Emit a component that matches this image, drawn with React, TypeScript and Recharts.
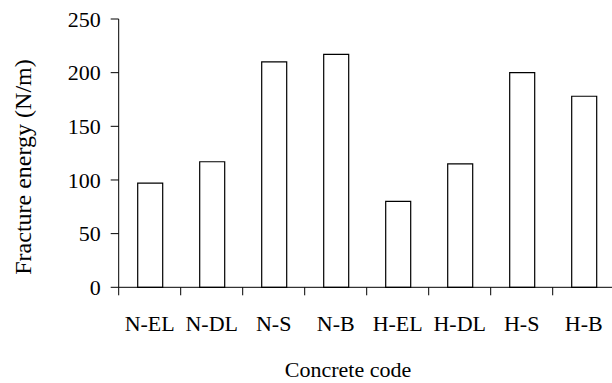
import { BarChart, Bar, XAxis, YAxis, Label } from "recharts";

const codes = ["N-EL", "N-DL", "N-S", "N-B", "H-EL", "H-DL", "H-S", "H-B"];
const energy = [97, 117, 210, 217, 80, 115, 200, 178];
const yTicks = [0, 50, 100, 150, 200, 250];

const data = codes.map((c, i) => ({ code: c, energy: energy[i] }));

const font = "'Liberation Serif', 'Times New Roman', serif";
const W = 615;
const H = 383;
const left = 118.7;
const half = (W - 0.3 - left) / codes.length / 2;

const XTick = (props: any) => {
  const { x, y, payload, index } = props;
  return (
    <g>
      <line x1={x - half} y1={y} x2={x - half} y2={y + 8} stroke="#000" />
      {index === codes.length - 1 && (
        <line x1={x + half} y1={y} x2={x + half} y2={y + 8} stroke="#000" />
      )}
      <text
        x={x}
        y={y + 44}
        textAnchor="middle"
        fontFamily={font}
        fontSize={22}
        fill="#000"
      >
        {payload.value}
      </text>
    </g>
  );
};

const App = () => {
  return (
    <div
      style={{
        position: "absolute",
        left: 0,
        top: 0,
        width: 612,
        height: H,
        overflow: "hidden",
        background: "#fff",
      }}
    >
      <BarChart
        width={W}
        height={H}
        data={data}
        margin={{ top: 19, right: 0.3, left: 0, bottom: 0 }}
        barSize={25}
      >
        <XAxis
          dataKey="code"
          height={95.7}
          tickLine={false}
          tickSize={0}
          tickMargin={0}
          axisLine={{ stroke: "#000" }}
          tick={<XTick />}
          interval={0}
        >
          <Label
            content={() => (
              <text
                x={348}
                y={377}
                textAnchor="middle"
                fontFamily={font}
                fontSize={22}
                fill="#000"
              >
                Concrete code
              </text>
            )}
          />
        </XAxis>
        <YAxis
          width={left}
          domain={[0, 250]}
          ticks={yTicks}
          tickSize={8}
          tickMargin={10}
          axisLine={{ stroke: "#000" }}
          tickLine={{ stroke: "#000" }}
          tick={{ fill: "#000", fontFamily: font, fontSize: 22 }}
        >
          <Label
            content={() => (
              <text
                x={31}
                y={167}
                transform="rotate(-90 31 167)"
                textAnchor="middle"
                fontFamily={font}
                fontSize={24}
                fill="#000"
              >
                Fracture energy (N/m)
              </text>
            )}
          />
        </YAxis>
        <Bar
          dataKey="energy"
          fill="#fff"
          stroke="#000"
          strokeWidth={1.2}
          isAnimationActive={false}
        />
      </BarChart>
    </div>
  );
};

export default App;
